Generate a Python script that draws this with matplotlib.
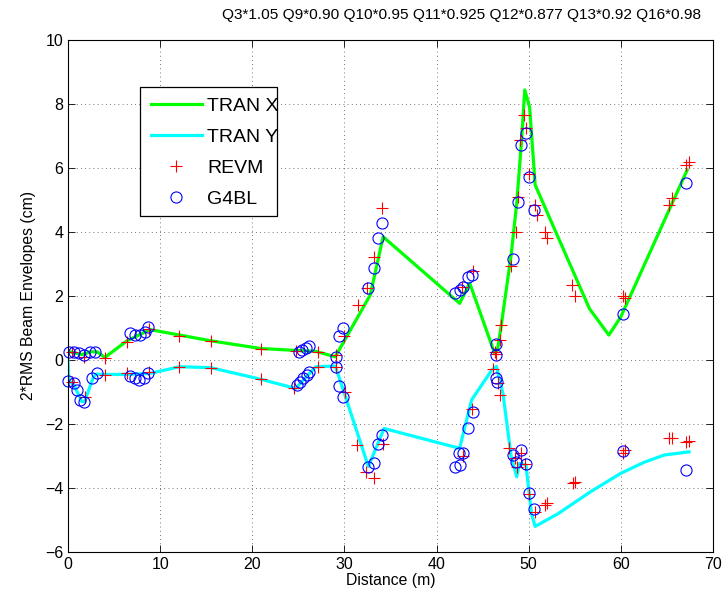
import matplotlib
matplotlib.use("Agg")
import matplotlib.pyplot as plt
from matplotlib.patches import Rectangle

plt.rcParams['font.family'] = ['Liberation Sans', 'DejaVu Sans']

# TRAN X envelope line
tranx_s = [0.0, 0.5, 1.5, 2.5, 3.2, 4.0, 6.4, 8.9, 12.1, 15.5, 20.9, 24.7, 26.9, 29.0,
           32.8, 34.2, 42.5, 43.6, 46.3, 46.6, 47.0, 48.1, 48.7, 49.2, 49.57, 50.1,
           50.7, 56.6, 58.7, 60.0, 67.2]
tranx_v = [0.26, 0.24, 0.17, 0.26, 0.25, 0.08, 0.6, 0.95, 0.78, 0.6, 0.36, 0.3, 0.27, 0.1,
           2.03, 3.85, 1.77, 2.4, 0.21, 0.3, 1.04, 3.3, 4.9, 6.77, 8.44, 7.9,
           5.47, 1.6, 0.78, 1.35, 5.94]

# TRAN Y envelope line
trany_s = [0.0, 0.1, 0.7, 1.0, 1.5, 1.8, 2.77, 3.1, 4.0, 6.4, 8.9, 12.1, 15.5, 20.9, 24.7,
           26.9, 29.0, 29.1, 32.6, 34.3, 42.5, 43.8, 46.0, 46.5, 47.2, 48.1, 48.7, 49.0,
           49.7, 50.3, 50.7, 53.2, 56.8, 60.0, 62.5, 64.7, 67.4]
trany_v = [0.0, -0.65, -0.8, -1.0, -1.3, -1.3, -0.52, -0.44, -0.45, -0.45, -0.42, -0.21,
           -0.24, -0.6, -0.89, -0.21, -0.19, -0.26, -3.33, -2.14, -2.76, -1.25, -0.31,
           -0.2, -1.04, -3.02, -3.65, -3.23, -3.28, -4.8, -5.2, -4.8, -4.1, -3.54, -3.2,
           -2.97, -2.87]

# REVM points (x envelope, y envelope)
revm_xs = [0.43, 1.7, 4.0, 6.4, 8.8, 12.1, 15.5, 20.9, 24.7, 27.1, 29.05, 29.95, 31.5,
           32.5, 33.2, 34.1, 42.8, 43.9, 46.3, 46.5, 46.9, 47.0, 48.1, 48.6, 48.8, 49.0,
           49.5, 49.7, 50.0, 50.65, 50.9, 51.8, 52.0, 54.7, 55.0, 60.2, 60.5, 65.2, 65.5,
           67.1, 67.4]
revm_xv = [0.26, 0.1, 0.07, 0.57, 0.96, 0.76, 0.59, 0.34, 0.27, 0.26, 0.16, 0.75, 1.72,
           2.24, 3.23, 4.74, 2.27, 2.77, 0.26, 0.18, 0.63, 1.09, 2.94, 4.0, 5.1, 6.88,
           7.66, 7.24, 5.8, 4.84, 4.53, 4.01, 3.8, 2.34, 2.0, 2.0, 1.93, 4.84, 5.05,
           6.09, 6.2]
revm_ys = [0.43, 1.87, 4.0, 6.4, 8.8, 12.1, 15.5, 20.9, 24.5, 27.1, 29.05, 30.1, 31.4,
           32.3, 33.2, 34.2, 42.9, 43.8, 46.1, 46.7, 46.9, 47.9, 48.5, 48.7, 49.2, 49.6,
           50.0, 50.65, 51.8, 52.0, 54.8, 55.0, 60.2, 60.4, 65.2, 65.6, 67.1, 67.4]
revm_yv = [-0.68, -1.17, -0.47, -0.42, -0.36, -0.21, -0.24, -0.6, -0.89, -0.21, -0.21,
           -0.99, -2.66, -3.49, -3.7, -2.64, -3.0, -1.53, -0.28, -0.73, -1.09, -2.76,
           -3.07, -3.33, -2.92, -3.25, -4.2, -4.74, -4.53, -4.46, -3.85, -3.8, -2.92,
           -2.81, -2.45, -2.43, -2.55, -2.53]

# G4BL points (x envelope, y envelope)
g4bl_xs = [0.07, 0.6, 1.15, 1.7, 2.4, 2.95, 6.7, 7.3, 7.8, 8.35, 8.7, 25.1, 25.4, 25.8,
           26.2, 29.05, 29.4, 29.8, 32.6, 33.2, 33.6, 34.1, 42.0, 42.5, 42.9, 43.4, 43.8,
           46.4, 46.5, 48.3, 48.8, 49.2, 49.7, 50.0, 50.6, 60.2, 67.1]
g4bl_xv = [0.26, 0.26, 0.21, 0.16, 0.26, 0.26, 0.83, 0.78, 0.78, 0.89, 1.03, 0.26, 0.31,
           0.36, 0.44, 0.1, 0.75, 0.99, 2.24, 2.87, 3.8, 4.27, 2.08, 2.19, 2.29, 2.6, 2.66,
           0.16, 0.5, 3.15, 4.95, 6.72, 7.08, 5.71, 4.68, 1.43, 5.54]
g4bl_ys = [0.0, 0.6, 0.97, 1.33, 1.7, 2.6, 3.1, 6.7, 7.3, 7.7, 8.2, 8.7, 24.9, 25.2, 25.5,
           25.9, 26.2, 29.05, 29.4, 29.8, 32.6, 33.2, 33.6, 34.1, 42.0, 42.5, 42.4, 42.9,
           43.4, 44.0, 46.5, 46.6, 48.3, 48.6, 49.2, 49.7, 50.0, 50.6, 60.2, 67.1]
g4bl_yv = [-0.65, -0.73, -0.94, -1.25, -1.3, -0.57, -0.42, -0.49, -0.57, -0.63, -0.57,
           -0.42, -0.78, -0.68, -0.57, -0.47, -0.36, -0.21, -0.8, -1.15, -3.33, -3.23,
           -2.64, -2.34, -3.33, -3.28, -2.92, -2.9, -2.14, -1.61, -0.57, -0.68, -2.97,
           -3.2, -2.81, -3.25, -4.17, -4.67, -2.84, -3.44]

title_text = "Q3*1.05 Q9*0.90 Q10*0.95 Q11*0.925 Q12*0.877 Q13*0.92 Q16*0.98"
W, H = 727, 602
fig = plt.figure(figsize=(W / 100, H / 100), dpi=100)
ax = fig.add_axes([68 / W, (H - 552) / H, (713 - 68) / W, 512 / H])

ax.plot(tranx_s, tranx_v, color=(0, 1, 0), lw=2.3, label='TRAN X')
ax.plot(trany_s, trany_v, color=(0, 1, 1), lw=2.3, label='TRAN Y')
ax.plot(revm_xs, revm_xv, ls='none', marker='+', color='red', ms=8, mew=0.8,
        clip_on=False, label='REVM')
ax.plot(revm_ys, revm_yv, ls='none', marker='+', color='red', ms=8, mew=0.8, clip_on=False)
ax.plot(g4bl_xs, g4bl_xv, ls='none', marker='o', mfc='none', mec='blue', ms=8, mew=0.8,
        clip_on=False, label='G4BL')
ax.plot(g4bl_ys, g4bl_yv, ls='none', marker='o', mfc='none', mec='blue', ms=8, mew=0.8,
        clip_on=False)

ax.set_xlim(0, 70)
ax.set_ylim(-6, 10)
ax.set_xticks(range(0, 71, 10))
ax.set_yticks(range(-6, 11, 2))
ax.tick_params(direction='in', top=True, right=True, labelsize=11.5, length=5, width=0.6)
for sp in ax.spines.values():
    sp.set_linewidth(0.8)
ax.grid(True, ls=(0, (1, 4)), color='black', lw=0.6, alpha=0.7)
ax.set_axisbelow(True)
ax.set_xlabel('Distance (m)', fontsize=11.3, labelpad=1)
ax.set_ylabel('2*RMS Beam Envelopes (cm)', fontsize=11.3, labelpad=6)

fig.text(462 / W, 1 - 15 / H, title_text, ha='center', va='center', fontsize=11.1)

leg = ax.legend(loc='upper left', bbox_to_anchor=(151 / W, 1 - 97 / H),
                bbox_transform=fig.transFigure, fontsize=14, frameon=False,
                handlelength=2.6, labelspacing=0.7, handletextpad=0.3,
                borderpad=0.0, borderaxespad=0)
fig.add_artist(Rectangle((140 / W, 1 - 216 / H), (277 - 140) / W, (216 - 87) / H,
                         transform=fig.transFigure, fill=True, facecolor='white',
                         edgecolor='black', lw=0.9, zorder=4))
leg.set_zorder(5)
fig.add_artist(leg)

fig.savefig('out.png', dpi=100)
